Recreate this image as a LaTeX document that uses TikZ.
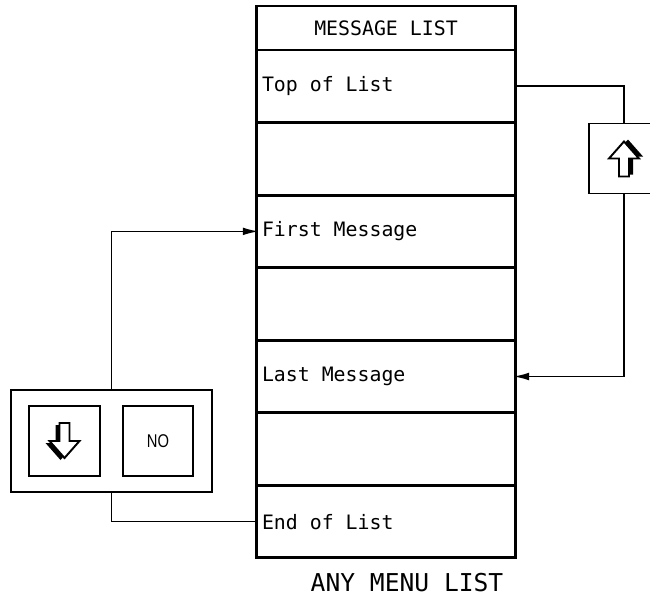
\documentclass[tikz,border=0pt]{standalone}
\usepackage{fontspec}
\setmonofont{DejaVu Sans Mono}
\newfontfamily\keyfont{Liberation Sans}
\usetikzlibrary{arrows.meta,positioning}
\tikzset{>={Latex[length=9pt,width=4.4pt]},every node/.style={font=\ttfamily\fontsize{11.3}{13}\selectfont},
 listrow/.style={draw,line width=1.7pt,outer sep=0pt,minimum width=5.2cm,
 minimum height=1.4514cm,text width=4.96cm,inner xsep=0.12cm,align=left,
 execute at begin node={\spaceskip=0pt\xspaceskip=0pt}},
 keybox/.style={draw,line width=1pt,minimum width=1.4cm,minimum height=1.4cm,outer sep=0pt},
 link/.style={line width=0.9pt}}
\begin{document}
\begin{tikzpicture}[x=0.02cm,y=-0.02cm]
\useasboundingbox (0,0) rectangle (650,602);
\clip (0,0) rectangle (650,602);
% the list column
\node[listrow,minimum height=0.88cm,align=center] (title) at (386,28) {MESSAGE LIST};
\node[listrow,below=0pt of title] (top) {Top of List};
\node[listrow,below=0pt of top] (gapA) {};
\node[listrow,below=0pt of gapA] (first) {First Message};
\node[listrow,below=0pt of first] (gapB) {};
\node[listrow,below=0pt of gapB] (last) {Last Message};
\node[listrow,below=0pt of last] (gapC) {};
\node[listrow,below=0pt of gapC] (endl) {End of List};
\node[font=\ttfamily\fontsize{14}{16}\selectfont] (caption) at (407,583) {ANY MENU LIST};
% keys
\node[keybox] (upkey) at (624,158.5) {};
\node[draw,line width=1pt,minimum width=4.02cm,minimum height=2.04cm,outer sep=0pt] (dnpanel) at (111.5,441) {};
\node[keybox,minimum width=1.42cm] (dnkey) at (64.5,441) {};
\node[keybox] (nokey) at (158,441) {};
\node[font=\keyfont\fontsize{10.5}{11}\selectfont,xscale=0.8] (nolabel) at (nokey.center) {NO};
\foreach \k/\s/\dx/\dy in {upkey/1/4/-2,dnkey/-1/-4/-2}{
 \begin{scope}[shift={(\k.center)},yscale=\s]
 \fill[shift={(\dx,\dy)}] (0,-17)--(15,0)--(5,0)--(5,18)--(-5,18)--(-5,0)--(-15,0)--cycle;
 \filldraw[fill=white,line width=1.1pt] (0,-17)--(15,0)--(5,0)--(5,18)--(-5,18)--(-5,0)--(-15,0)--cycle;
 \end{scope}}
% connectors
\draw[link] (top.east) -| (upkey.north);
\draw[link,->,shorten >=-1.5pt] (upkey.south) |- (last.east);
\draw[link] (endl.west) -| (dnpanel.south);
\draw[link,->,shorten >=-1.5pt] (dnpanel.north) |- (first.west);
\end{tikzpicture}
\end{document}
